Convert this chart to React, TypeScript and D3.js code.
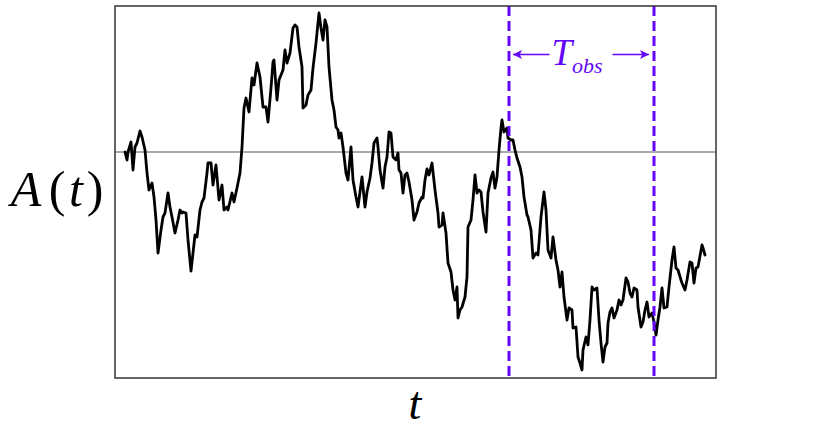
import React from 'react';
import * as d3 from 'd3';

// time index of each sample along the path
const tValues = [
  0, 2, 3, 6, 8, 10, 12, 15, 17, 20, 22, 24, 27, 29, 31, 33, 36, 38, 40, 43,
  45, 47, 50, 53, 55, 57, 58, 61, 63, 66, 68, 70, 72, 75, 77, 79, 82, 83, 86, 88,
  91, 94, 97, 99, 102, 103, 107, 109, 112, 115, 117, 119, 121, 124, 127, 129, 132, 135, 138, 141,
  143, 146, 148, 149, 152, 154, 158, 160, 162, 165, 168, 170, 172, 174, 177, 178, 181, 183, 186, 188,
  191, 194, 196, 198, 200, 202, 204, 207, 209, 211, 213, 214, 216, 218, 221, 223, 226, 228, 231, 233,
  237, 240, 242, 245, 247, 249, 252, 253, 255, 258, 260, 262, 264, 266, 268, 271, 273, 274, 276, 278,
  280, 282, 284, 287, 289, 292, 294, 297, 298, 300, 302, 304, 307, 310, 313, 314, 317, 318, 321, 323,
  326, 328, 330, 332, 333, 335, 337, 340, 342, 343, 346, 348, 350, 352, 354, 356, 358, 361, 363, 366,
  368, 370, 372, 374, 376, 377, 379, 382, 383, 386, 388, 390, 392, 395, 397, 399, 402, 403, 406, 408,
  411, 413, 416, 419, 421, 423, 426, 428, 431, 433, 435, 437, 439, 442, 444, 447, 448, 451, 453, 455,
  457, 458, 461, 463, 465, 467, 469, 472, 474, 476, 478, 480, 482, 483, 485, 487, 489, 492, 494, 496,
  498, 501, 503, 505, 507, 509, 512, 513, 516, 518, 520, 522, 524, 527, 529, 531, 533, 535, 537, 539,
  542, 544, 547, 549, 551, 553, 556, 557, 560, 562, 565, 567, 569, 571, 573, 577, 578, 580,
];

// A(t) (0 = the thin reference line)
const aValues = [
  0, -0.8, 0, 1.0, -1.8, 0.5, 0.9, 2.1, 1.5, 0.2, -2.1, -3.8, -3.1, -4.5, -6.8, -10.1, -7.8, -6.5, -6.1, -4.1,
  -5.5, -6.5, -8.1, -6.8, -5.8, -6.1, -6.0, -6.1, -8.8, -11.9, -10.1, -8.3, -8.5, -5.8, -5.0, -4.6, -2.1, -1.1, -1.1, -3.3,
  -1.3, -4.8, -3.3, -5.8, -5.5, -5.8, -4.1, -5.0, -3.6, -2.1, 0.5, 4.4, 5.4, 4.0, 7.4, 6.7, 8.9, 7.5, 4.5, 4.5,
  3.0, 6.4, 9.0, 9.2, 5.2, 7.2, 8.2, 10.2, 8.9, 9.9, 12.4, 12.7, 12.5, 10.5, 8.5, 4.4, 4.7, 5.7, 6.2, 8.4,
  10.9, 13.9, 12.4, 11.2, 13.2, 12.5, 8.5, 5.2, 4.2, 2.5, 2.2, 1.4, 1.9, 0.5, -2.1, -2.8, 0.5, -2.8, -4.5, -5.5,
  -2.5, -5.5, -4.0, -2.6, -1.1, 0.9, 1.4, 0.5, -1.8, -3.6, -1.5, -0.5, 2.0, 1.9, -0.5, -0.8, -0.1, -1.8, -2.1, -4.1,
  -2.3, -2.1, -3.0, -4.8, -6.8, -6.0, -5.1, -4.5, -4.6, -2.8, -1.7, -2.3, -1.1, -3.8, -6.1, -7.5, -7.3, -6.1, -8.1, -11.1,
  -12.0, -13.8, -14.8, -13.5, -16.6, -15.8, -15.5, -14.5, -12.5, -7.5, -6.8, -4.8, -2.3, -4.1, -3.8, -4.0, -6.0, -8.0, -4.1, -2.6,
  -2.0, -3.6, -2.5, 0.2, 2.4, 3.2, 2.0, 2.4, 1.4, 1.2, 1.2, 0.2, -0.6, -1.5, -2.5, -4.5, -6.3, -6.5, -7.8, -10.6,
  -10.1, -10.3, -6.5, -4.0, -5.8, -9.8, -10.6, -8.5, -10.8, -11.8, -13.5, -12.0, -14.5, -16.8, -15.6, -15.8, -17.6, -17.5, -20.5, -21.1,
  -21.8, -19.8, -18.5, -19.3, -16.8, -13.5, -13.8, -13.6, -16.8, -19.1, -21.0, -19.5, -19.1, -17.1, -16.0, -15.6, -16.6, -15.8, -14.8, -15.3,
  -14.8, -12.6, -13.0, -14.1, -14.5, -13.6, -13.8, -15.5, -17.5, -17.0, -15.8, -15.0, -16.5, -16.1, -17.0, -18.3, -16.8, -15.5, -13.6, -15.6,
  -15.5, -13.5, -10.8, -9.5, -11.6, -11.8, -12.8, -13.1, -13.8, -12.8, -11.0, -11.1, -13.1, -11.6, -11.5, -9.3, -9.6, -10.3,
];

const tDomain = [-10, 591];
const aDomain = [-22.6, 14.6];
const obsWindow = [384, 529];

const W = 830;
const H = 430;
const box = { left: 115, right: 716, top: 6, bottom: 378 };
const purple = '#6407f7';
const serif = '"Liberation Serif", "DejaVu Serif", serif';

export default function App() {
  const x = d3.scaleLinear().domain(tDomain).range([box.left, box.right]);
  const y = d3.scaleLinear().domain(aDomain).range([box.bottom, box.top]);

  const points: [number, number][] = tValues.map((t, i) => [t, aValues[i]]);
  const line = d3.line<[number, number]>()
    .x(d => x(d[0]))
    .y(d => y(d[1]));

  const x0 = x(obsWindow[0]);
  const x1 = x(obsWindow[1]);
  const arrowY = 54.5;
  const mid = (x0 + x1) / 2;

  return (
    <div style={{ position: 'absolute', left: 0, top: 0 }}>
      <svg width={W} height={H} style={{ display: 'block', background: '#fff' }}>
        <defs>
          <marker id="head" viewBox="0 0 10 10" refX="10" refY="5"
            markerWidth="9" markerHeight="9" markerUnits="userSpaceOnUse" orient="auto">
            <path d="M0,0 L10,5 L0,10 L2.5,5 Z" fill={purple} />
          </marker>
        </defs>

        {/* reference level */}
        <line x1={box.left} x2={box.right} y1={y(0)} y2={y(0)} stroke="#555" strokeWidth={1} />

        <path d={line(points) || ''} fill="none" stroke="#000" strokeWidth={2.8}
          strokeLinejoin="round" strokeLinecap="round" />

        {obsWindow.map((t, i) => (
          <line key={i} x1={x(t)} x2={x(t)} y1={box.top} y2={box.bottom}
            stroke={purple} strokeWidth={3} strokeDasharray="10,5" />
        ))}

        <line x1={mid - 32} x2={x0 + 4} y1={arrowY} y2={arrowY} stroke={purple}
          strokeWidth={1.6} markerEnd="url(#head)" />
        <line x1={mid + 31} x2={x1 - 5} y1={arrowY} y2={arrowY} stroke={purple}
          strokeWidth={1.6} markerEnd="url(#head)" />
        <text x={mid - 30} y={65} fill={purple} fontFamily={serif} fontStyle="italic" fontSize={37}>
          T<tspan fontSize={22} dy={8} dx={0}>obs</tspan>
        </text>

        <rect x={box.left} y={box.top} width={box.right - box.left} height={box.bottom - box.top}
          fill="none" stroke="#333" strokeWidth={1.5} />

        {/* axis labels */}
        <g fontFamily={serif} fontSize={50} fill="#000" textAnchor="middle">
          <text x={26} y={206} fontStyle="italic">A</text>
          <text x={57} y={206}>(</text>
          <text x={76} y={206} fontStyle="italic">t</text>
          <text x={95} y={206}>)</text>
        </g>
        <text x={415} y={419} fontFamily={serif} fontSize={46} fontStyle="italic"
          textAnchor="middle">t</text>
      </svg>
    </div>
  );
}
